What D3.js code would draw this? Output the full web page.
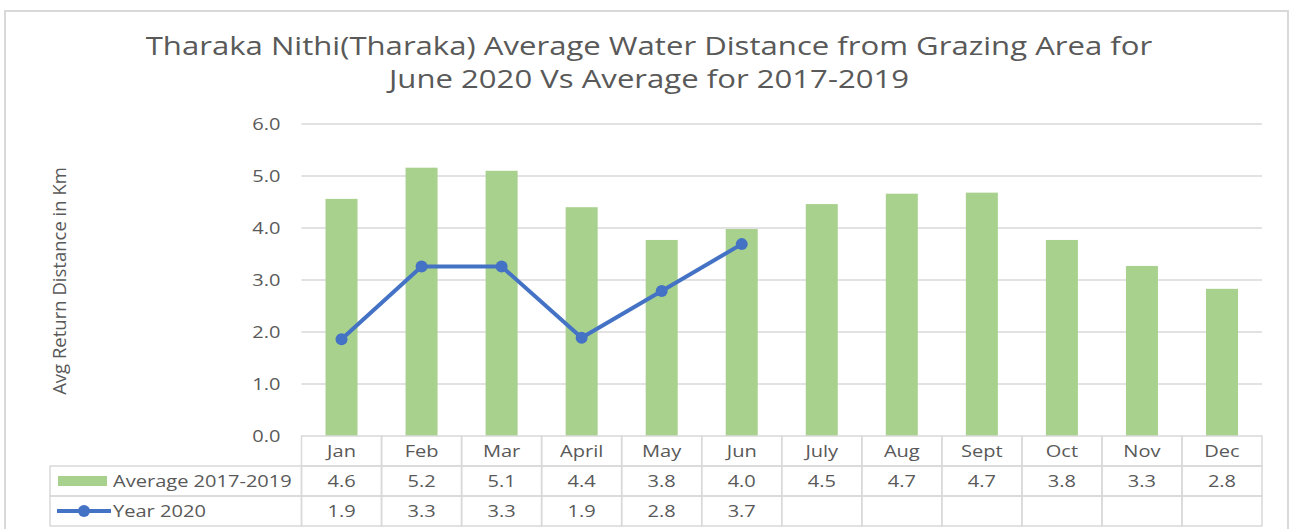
<!DOCTYPE html>
<html>
<meta charset="utf-8">
<head>
<style>
  body { margin: 0; background: #fff; }
  svg text { font-family: "Open Sans", sans-serif; fill: #595959; }
</style>
</head>
<script src="https://d3js.org/d3.v7.min.js"></script>
<body>
<svg id="chart" width="1294" height="529"></svg>
<script>

// data
var months = ["Jan", "Feb", "Mar", "April", "May", "Jun", "July", "Aug", "Sept", "Oct", "Nov", "Dec"];
var avg2017_2019 = [4.56, 5.16, 5.10, 4.40, 3.77, 3.98, 4.46, 4.66, 4.68, 3.77, 3.27, 2.83];
var year2020 = [1.86, 3.26, 3.26, 1.89, 2.79, 3.69, null, null, null, null, null, null];
var yTicks = [0, 1, 2, 3, 4, 5, 6];
var seriesNames = ["Average 2017-2019", "Year 2020"];
var titleLines = ["Tharaka Nithi(Tharaka) Average Water Distance from Grazing Area for",
                  "June 2020 Vs Average for 2017-2019"];

var barColor = "#a9d18e",
    lineColor = "#4472c4",
    gridColor = "#d9d9d9";

// the source picture is a little wider than tall, so text gets stretched sideways
var sxSmall = 1.18, sxTitle = 1.22;

var svg = d3.select("#chart");

// put a text at (px,py), stretched horizontally around its anchor
function addText(parent, px, py, str, size, anchor, sx) {
  return parent.append("text")
    .attr("transform", "translate(" + px + "," + py + ") scale(" + sx + ",1)")
    .attr("text-anchor", anchor)
    .style("font-size", size + "px")
    .text(str);
}

// outer chart frame (bottom runs off the picture)
svg.append("rect")
  .attr("x", 5).attr("y", 11)
  .attr("width", 1283).attr("height", 600)
  .attr("fill", "none")
  .attr("stroke", gridColor)
  .attr("stroke-width", 2);

// title
titleLines.forEach(function(t, i) {
  addText(svg, 649, 55 + i * 33, t, 25.5, "middle", sxTitle);
});

// scales
var x = d3.scaleBand()
  .domain(months)
  .range([301.5, 1262])
  .paddingInner(0.6)
  .paddingOuter(0.3);

var y = d3.scaleLinear()
  .domain([0, 6])
  .range([436, 124]);

var step = x.step();
var colLeft = function(i) { return 301.5 + i * step; };

// gridlines
svg.append("g").selectAll("line")
  .data(yTicks.slice(1))
  .enter().append("line")
    .attr("x1", 301.5).attr("x2", 1262)
    .attr("y1", function(d) { return y(d); })
    .attr("y2", function(d) { return y(d); })
    .attr("stroke", gridColor)
    .attr("stroke-width", 1.5);

// y axis labels
var yAxis = svg.append("g")
  .attr("transform", "translate(301.5,0)")
  .call(d3.axisLeft(y).tickValues(yTicks).tickFormat(d3.format(".1f")).tickSize(0));
yAxis.select(".domain").remove();
yAxis.selectAll("text")
  .attr("x", null)
  .attr("transform", "translate(-21,0) scale(" + sxSmall + ",1)")
  .style("font-size", "17px")
  .style("font-family", "Open Sans, sans-serif")
  .attr("fill", "#595959");

// y axis title
svg.append("text")
  .attr("transform", "translate(66,281) rotate(-90)")
  .attr("text-anchor", "middle")
  .style("font-size", "18.5px")
  .text("Avg Return Distance in Km");

// bars
svg.append("g").selectAll("rect")
  .data(avg2017_2019)
  .enter().append("rect")
    .attr("x", function(d, i) { return x(months[i]); })
    .attr("y", function(d) { return y(d); })
    .attr("width", x.bandwidth())
    .attr("height", function(d) { return y(0) - y(d); })
    .attr("fill", barColor);

// line + markers
var pts = year2020.map(function(v, i) { return { m: months[i], v: v }; })
  .filter(function(d) { return d.v !== null; });

svg.append("path")
  .datum(pts)
  .attr("fill", "none")
  .attr("stroke", lineColor)
  .attr("stroke-width", 4)
  .attr("stroke-linejoin", "round")
  .attr("d", d3.line()
    .x(function(d) { return x(d.m) + x.bandwidth() / 2; })
    .y(function(d) { return y(d.v); }));

svg.append("g").selectAll("circle")
  .data(pts)
  .enter().append("circle")
    .attr("cx", function(d) { return x(d.m) + x.bandwidth() / 2; })
    .attr("cy", function(d) { return y(d.v); })
    .attr("r", 6)
    .attr("fill", lineColor);

// data table
var rowTop = [436, 466, 496, 526];
var table = svg.append("g");

// header row (months)
months.forEach(function(m, i) {
  table.append("rect")
    .attr("x", colLeft(i)).attr("y", rowTop[0])
    .attr("width", step).attr("height", rowTop[1] - rowTop[0])
    .attr("fill", "none").attr("stroke", gridColor).attr("stroke-width", 1.5);
  addText(table, colLeft(i) + step / 2, rowTop[0] + 21, m, 17, "middle", sxSmall);
});

var rows = [avg2017_2019, year2020];
rows.forEach(function(vals, r) {
  var top = rowTop[r + 1], h = rowTop[r + 2] - top;
  // legend cell
  table.append("rect")
    .attr("x", 50).attr("y", top)
    .attr("width", 301.5 - 50).attr("height", h)
    .attr("fill", "none").attr("stroke", gridColor).attr("stroke-width", 1.5);
  vals.forEach(function(v, i) {
    table.append("rect")
      .attr("x", colLeft(i)).attr("y", top)
      .attr("width", step).attr("height", h)
      .attr("fill", "none").attr("stroke", gridColor).attr("stroke-width", 1.5);
    if (v !== null) {
      addText(table, colLeft(i) + step / 2, top + 21, v.toFixed(1), 17, "middle", sxSmall);
    }
  });
  addText(table, 113, top + 21, seriesNames[r], 17, "start", sxSmall);
});

// legend keys
table.append("rect")
  .attr("x", 58).attr("y", 476)
  .attr("width", 49).attr("height", 10)
  .attr("fill", barColor);
table.append("line")
  .attr("x1", 57).attr("x2", 111)
  .attr("y1", 511).attr("y2", 511)
  .attr("stroke", lineColor).attr("stroke-width", 4);
table.append("circle")
  .attr("cx", 84).attr("cy", 511).attr("r", 6)
  .attr("fill", lineColor);

</script>
</body>
</html>
